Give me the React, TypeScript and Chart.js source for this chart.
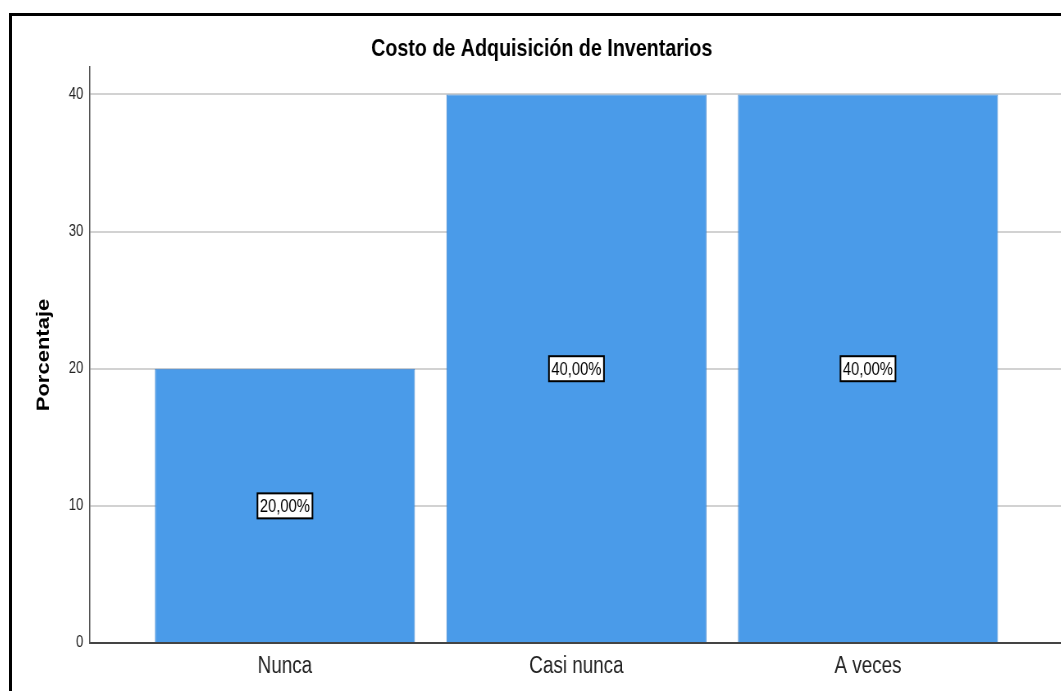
import { useEffect, useRef } from "react";
import { Chart, registerables } from "chart.js";

Chart.register(...registerables);

const chartTitle = "Costo de Adquisición de Inventarios";
const yAxisTitle = "Porcentaje";
const categories = ["Nunca", "Casi nunca", "A veces"];
const percentages = [20, 40, 40];
const yTicks = [0, 10, 20, 30, 40];

const FONT = "'Liberation Sans', Arial, Helvetica, sans-serif";
// The chart is drawn wide and squeezed horizontally, giving the narrow lettering.
const SQUEEZE = 0.82;
const CANVAS_W = 1300;
const CANVAS_H = 690;
const BAR_COLOR = "#4a9be9";
const BAR_EDGE = "#3b83cf";

const formatPct = (v: number) => v.toFixed(2).replace(".", ",") + "%";

// White boxed percentage written at the middle of each bar
const valueLabels = {
  id: "valueLabels",
  afterDatasetsDraw(chart: any) {
    const { ctx } = chart;
    const meta = chart.getDatasetMeta(0);
    const yScale = chart.scales.y;
    ctx.save();
    ctx.font = `18px ${FONT}`;
    ctx.textAlign = "center";
    ctx.textBaseline = "middle";
    meta.data.forEach((bar: any, i: number) => {
      const v = percentages[i];
      const text = formatPct(v);
      const x = bar.x;
      const y = yScale.getPixelForValue(v / 2);
      const w = ctx.measureText(text).width + 6;
      const h = 25;
      ctx.fillStyle = "#ffffff";
      ctx.fillRect(x - w / 2, y - h / 2, w, h);
      ctx.strokeStyle = "#000000";
      ctx.lineWidth = 2;
      ctx.strokeRect(x - w / 2, y - h / 2, w, h);
      ctx.fillStyle = "#000000";
      ctx.fillText(text, x, y + 1);
    });
    ctx.restore();
  },
};

export default function App() {
  const canvasRef = useRef<HTMLCanvasElement | null>(null);

  useEffect(() => {
    if (!canvasRef.current) return;
    const chart = new Chart(canvasRef.current, {
      type: "bar",
      data: {
        datasets: [
          {
            data: percentages.map((v, i) => ({ x: i, y: v })),
            backgroundColor: BAR_COLOR,
            borderColor: BAR_EDGE,
            borderWidth: 1,
            categoryPercentage: 1,
            barPercentage: 0.892,
          },
        ],
      },
      options: {
        responsive: false,
        animation: false,
        devicePixelRatio: 1,
        layout: { padding: { left: 0, right: 8, top: 0, bottom: 0 } },
        plugins: {
          legend: { display: false },
          tooltip: { enabled: false },
          title: {
            display: true,
            text: chartTitle,
            color: "#000000",
            font: { family: FONT, size: 24, weight: "bold" },
            padding: { top: 19, bottom: 3.2 },
          },
        },
        scales: {
          x: {
            type: "linear",
            offset: false,
            bounds: "data",
            min: -0.669,
            max: 2.698,
            afterBuildTicks: (scale: any) => {
              scale.ticks = categories.map((_, i) => ({ value: i }));
            },
            afterFit: (scale: any) => {
              scale.height = CANVAS_H - 627;
            },
            grid: { display: false, drawTicks: false, tickLength: 0, offset: false },
            border: { display: true, color: "#444444", width: 2 },
            ticks: {
              autoSkip: false,
              maxRotation: 0,
              padding: 10,
              color: "#222222",
              font: { family: FONT, size: 23 },
              callback: (v: any) => categories[v as number] ?? "",
            },
          },
          y: {
            min: 0,
            max: 42,
            afterBuildTicks: (scale: any) => {
              scale.ticks = yTicks.map((v) => ({ value: v }));
            },
            afterFit: (scale: any) => {
              scale.width = 95;
            },
            grid: {
              drawTicks: false,
              lineWidth: 2,
              color: (ctx: any) => (ctx.tick && ctx.tick.value === 0 ? "rgba(0,0,0,0)" : "#d2d2d2"),
            },
            border: { display: true, color: "#555555", width: 1.5 },
            ticks: {
              padding: 8,
              color: "#222222",
              font: { family: FONT, size: 16 },
            },
            title: {
              display: true,
              text: yAxisTitle,
              color: "#000000",
              font: { family: FONT, size: 22, weight: "bold" },
              padding: { top: 26, bottom: 0 },
            },
          },
        },
      },
      plugins: [valueLabels],
    });
    return () => chart.destroy();
  }, []);

  return (
    <div
      style={{
        position: "fixed",
        inset: 0,
        background: "#ffffff",
        overflow: "hidden",
      }}
    >
      <div
        style={{
          position: "absolute",
          left: 9,
          top: 13,
          width: 1120,
          height: 720,
          border: "3px solid #000000",
          overflow: "hidden",
        }}
      >
        <canvas
          ref={canvasRef}
          width={CANVAS_W}
          height={CANVAS_H}
          style={{
            position: "absolute",
            left: 0,
            top: 0,
            width: CANVAS_W,
            height: CANVAS_H,
            transform: `scaleX(${SQUEEZE})`,
            transformOrigin: "0 0",
          }}
        />
      </div>
    </div>
  );
}
